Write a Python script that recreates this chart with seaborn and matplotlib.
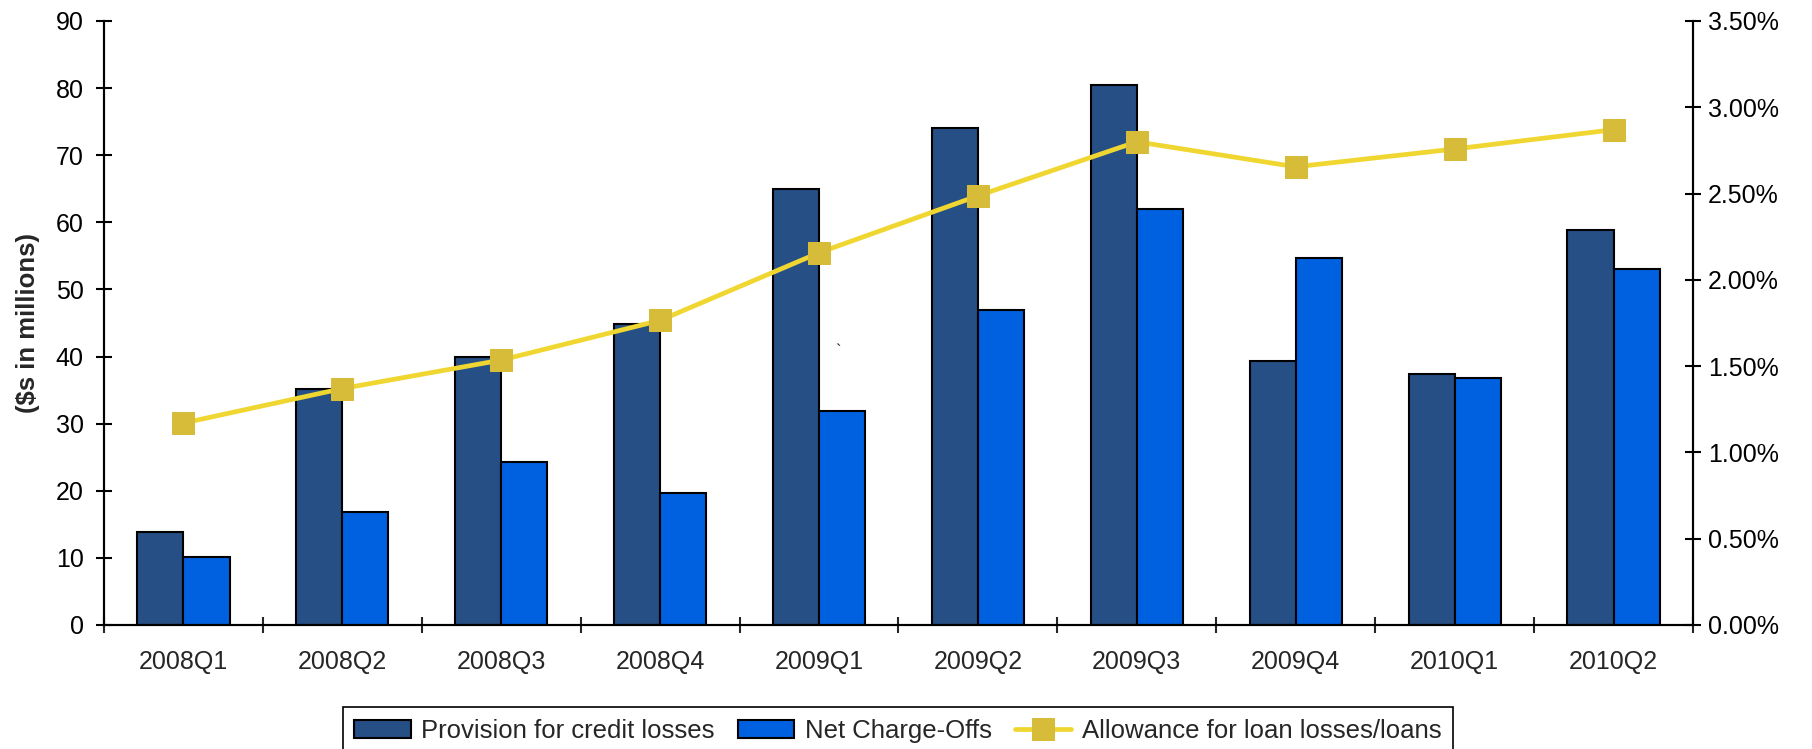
import numpy as np
import pandas as pd
import matplotlib
matplotlib.use("Agg")
import matplotlib.pyplot as plt
import seaborn as sns
from matplotlib.ticker import FuncFormatter, FixedLocator, MultipleLocator

quarters = ["2008Q1", "2008Q2", "2008Q3", "2008Q4", "2009Q1",
            "2009Q2", "2009Q3", "2009Q4", "2010Q1", "2010Q2"]
provision = [13.9, 35.1, 39.9, 44.9, 64.9, 74.0, 80.4, 39.4, 37.4, 58.8]
net_charge_offs = [10.1, 16.8, 24.3, 19.7, 31.9, 47.0, 62.0, 54.7, 36.8, 53.0]
allowance_pct = [1.17, 1.37, 1.535, 1.765, 2.157, 2.487, 2.80, 2.655, 2.758, 2.87]

series_names = ["Provision for credit losses", "Net Charge-Offs"]
line_name = "Allowance for loan losses/loans"

sns.set_style("white")
plt.rcParams["font.family"] = ["Liberation Sans", "DejaVu Sans"]

df = pd.DataFrame({
    "quarter": quarters * 2,
    "value": provision + net_charge_offs,
    "series": [series_names[0]] * len(quarters) + [series_names[1]] * len(quarters),
})

fig = plt.figure(figsize=(18.12, 7.49), dpi=100)
ax = fig.add_axes([0.0574, 0.1656, 0.9343 - 0.0574, 0.972 - 0.1656])

sns.barplot(data=df, x="quarter", y="value", hue="series", order=quarters,
            hue_order=series_names, palette=["#264F85", "#0061E0"],
            width=0.58, gap=0, edgecolor="black", linewidth=1.5,
            saturation=1, ax=ax, legend=True, errorbar=None)

ax2 = ax.twinx()
xs = np.arange(len(quarters))
sns.lineplot(x=xs, y=np.array(allowance_pct) / 100.0, ax=ax2, color="#F0D630",
             linewidth=3.4, marker="s", markersize=15.5,
             markerfacecolor="#D6BC38", markeredgecolor="#D6BC38",
             label=line_name, legend=False)

ax.set_xlim(-0.5, len(quarters) - 0.5)
ax.set_ylim(0, 90)
ax.yaxis.set_major_locator(MultipleLocator(10))
ax2.set_ylim(0, 0.035)
ax2.yaxis.set_major_locator(MultipleLocator(0.005))
ax2.yaxis.set_major_formatter(FuncFormatter(lambda v, p: f"{v*100:.2f}%"))

ax.set_xlabel("")
ax.set_ylabel("($s in millions)", fontsize=18.5, fontweight="bold")
ax.yaxis.set_label_coords(-0.0405, 0.5)

for a in (ax, ax2):
    for s in a.spines.values():
        s.set_linewidth(1.5)
        s.set_color("black")
    a.spines["top"].set_visible(False)

ax.tick_params(axis="y", direction="inout", length=12, width=1.5, labelsize=18,
               pad=8.5, left=True, colors="black")
ax2.tick_params(axis="y", direction="inout", length=12, width=1.5, labelsize=18,
                pad=5, right=True, colors="black")
ax.tick_params(axis="x", which="major", length=0, labelsize=18, pad=18)
ax.xaxis.set_minor_locator(FixedLocator(np.arange(len(quarters) + 1) - 0.5))
ax.tick_params(axis="x", which="minor", direction="inout", length=12, width=1.5,
               bottom=True)

# Legend
h1, l1 = ax.get_legend_handles_labels()
h2, l2 = ax2.get_legend_handles_labels()
ax.get_legend().remove()
leg = fig.legend(h1 + h2, l1 + l2, loc="upper center",
                 bbox_to_anchor=(0.4955, 1 - 707 / 749), ncol=3, frameon=True,
                 fancybox=False, edgecolor="black", framealpha=1,
                 prop={"size": 18.5},
                 handlelength=2.2, handletextpad=0.4, columnspacing=0.9,
                 borderpad=0.45, borderaxespad=0)
leg.get_frame().set_linewidth(1.2)

fig.text(838 / 1812, 1 - 351 / 749, "`", fontsize=12, ha="center", va="center")

fig.savefig("out.png", dpi=100)
